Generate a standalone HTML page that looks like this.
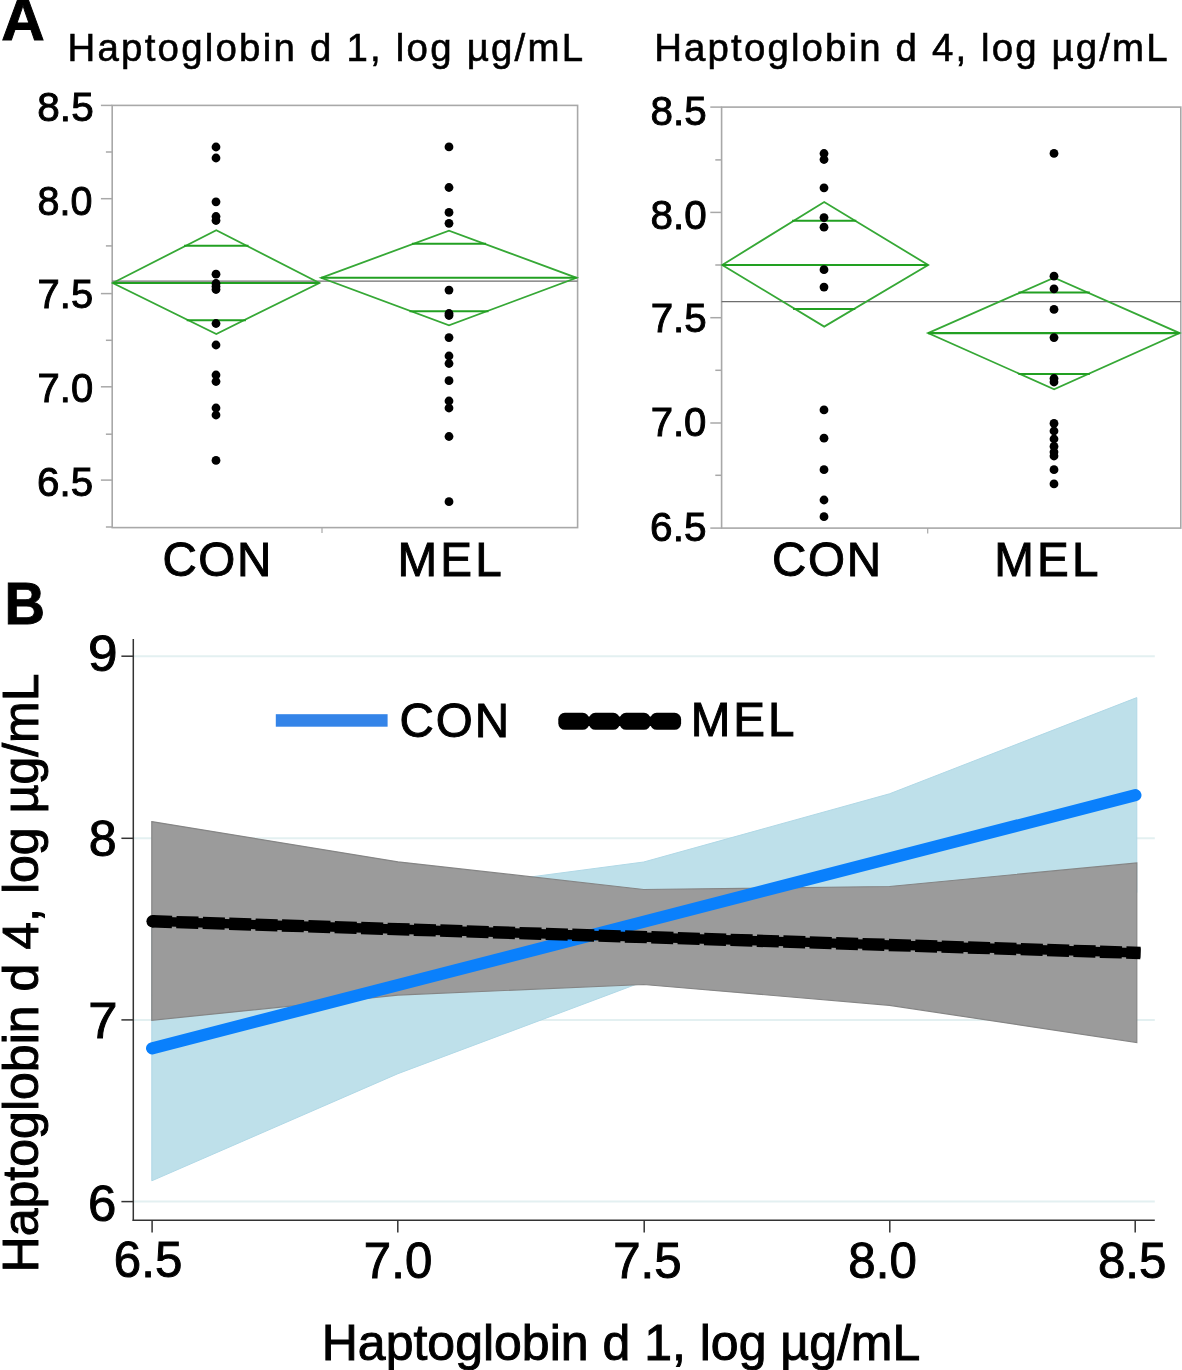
<!DOCTYPE html><html><head><meta charset="utf-8"><style>html,body{margin:0;padding:0;background:#fff;overflow:hidden}svg{display:block;will-change:transform}</style></head><body>
<svg width="1182" height="1370" viewBox="0 0 1182 1370" font-family='"Liberation Sans", sans-serif'>
<rect width="1182" height="1370" fill="#fff"/>
<rect x="112.2" y="105.4" width="465.40000000000003" height="422.20000000000005" fill="none" stroke="#a8a8a8" stroke-width="1.6"/>
<line x1="100.9" y1="105.4" x2="112.2" y2="105.4" stroke="#a8a8a8" stroke-width="1.5"/>
<line x1="100.9" y1="198.7" x2="112.2" y2="198.7" stroke="#a8a8a8" stroke-width="1.5"/>
<line x1="100.9" y1="293.6" x2="112.2" y2="293.6" stroke="#a8a8a8" stroke-width="1.5"/>
<line x1="100.9" y1="386.8" x2="112.2" y2="386.8" stroke="#a8a8a8" stroke-width="1.5"/>
<line x1="100.9" y1="480.1" x2="112.2" y2="480.1" stroke="#a8a8a8" stroke-width="1.5"/>
<line x1="105.9" y1="152.0" x2="112.2" y2="152.0" stroke="#a8a8a8" stroke-width="1.5"/>
<line x1="105.9" y1="245.9" x2="112.2" y2="245.9" stroke="#a8a8a8" stroke-width="1.5"/>
<line x1="105.9" y1="340.3" x2="112.2" y2="340.3" stroke="#a8a8a8" stroke-width="1.5"/>
<line x1="105.9" y1="434.2" x2="112.2" y2="434.2" stroke="#a8a8a8" stroke-width="1.5"/>
<line x1="105.9" y1="527.0" x2="112.2" y2="527.0" stroke="#a8a8a8" stroke-width="1.5"/>
<line x1="322" y1="527.6" x2="322" y2="533.1" stroke="#a8a8a8" stroke-width="1.2"/>
<line x1="112.2" y1="281.2" x2="577.6" y2="281.2" stroke="#6e6e6e" stroke-width="1.3"/>
<polygon points="112.7,283.0 216.3,230.2 319.4,283.0 216.3,334.0" fill="none" stroke="#36a836" stroke-width="1.8" stroke-linejoin="miter"/>
<line x1="112.7" y1="283.0" x2="319.4" y2="283.0" stroke="#22a022" stroke-width="2.1"/>
<line x1="184.1" y1="245.7" x2="248.5" y2="245.7" stroke="#22a022" stroke-width="2"/>
<line x1="186.7" y1="320.3" x2="245.9" y2="320.3" stroke="#22a022" stroke-width="2"/>
<polygon points="321.1,277.8 449,230.7 576.6,277.8 449,325.3" fill="none" stroke="#36a836" stroke-width="1.8" stroke-linejoin="miter"/>
<line x1="321.1" y1="277.8" x2="576.6" y2="277.8" stroke="#22a022" stroke-width="2.1"/>
<line x1="411.9" y1="243.7" x2="486.1" y2="243.7" stroke="#22a022" stroke-width="2"/>
<line x1="409.5" y1="311.3" x2="488.5" y2="311.3" stroke="#22a022" stroke-width="2"/>
<circle cx="216" cy="147.0" r="4.4" fill="#000"/>
<circle cx="216" cy="158.0" r="4.4" fill="#000"/>
<circle cx="216" cy="201.8" r="4.4" fill="#000"/>
<circle cx="216" cy="216.5" r="4.4" fill="#000"/>
<circle cx="216" cy="220.5" r="4.4" fill="#000"/>
<circle cx="216" cy="274.2" r="4.4" fill="#000"/>
<circle cx="216" cy="283.5" r="4.4" fill="#000"/>
<circle cx="216" cy="286.5" r="4.4" fill="#000"/>
<circle cx="216" cy="289.5" r="4.4" fill="#000"/>
<circle cx="216" cy="323.5" r="4.4" fill="#000"/>
<circle cx="216" cy="345" r="4.4" fill="#000"/>
<circle cx="216" cy="375" r="4.4" fill="#000"/>
<circle cx="216" cy="381.5" r="4.4" fill="#000"/>
<circle cx="216" cy="408" r="4.4" fill="#000"/>
<circle cx="216" cy="415" r="4.4" fill="#000"/>
<circle cx="216" cy="460.4" r="4.4" fill="#000"/>
<circle cx="449" cy="146.9" r="4.4" fill="#000"/>
<circle cx="449" cy="187.5" r="4.4" fill="#000"/>
<circle cx="449" cy="212.4" r="4.4" fill="#000"/>
<circle cx="449" cy="223.3" r="4.4" fill="#000"/>
<circle cx="449" cy="290.1" r="4.4" fill="#000"/>
<circle cx="449" cy="313.5" r="4.4" fill="#000"/>
<circle cx="449" cy="315.5" r="4.4" fill="#000"/>
<circle cx="449" cy="337.6" r="4.4" fill="#000"/>
<circle cx="449" cy="356" r="4.4" fill="#000"/>
<circle cx="449" cy="363.5" r="4.4" fill="#000"/>
<circle cx="449" cy="380.7" r="4.4" fill="#000"/>
<circle cx="449" cy="401" r="4.4" fill="#000"/>
<circle cx="449" cy="408" r="4.4" fill="#000"/>
<circle cx="449" cy="436.5" r="4.4" fill="#000"/>
<circle cx="449" cy="501.7" r="4.4" fill="#000"/>
<rect x="721.6" y="107.1" width="459.19999999999993" height="421.0" fill="none" stroke="#a8a8a8" stroke-width="1.6"/>
<line x1="710.3000000000001" y1="107.1" x2="721.6" y2="107.1" stroke="#a8a8a8" stroke-width="1.5"/>
<line x1="710.3000000000001" y1="212.4" x2="721.6" y2="212.4" stroke="#a8a8a8" stroke-width="1.5"/>
<line x1="710.3000000000001" y1="317.7" x2="721.6" y2="317.7" stroke="#a8a8a8" stroke-width="1.5"/>
<line x1="710.3000000000001" y1="423.0" x2="721.6" y2="423.0" stroke="#a8a8a8" stroke-width="1.5"/>
<line x1="710.3000000000001" y1="528.1" x2="721.6" y2="528.1" stroke="#a8a8a8" stroke-width="1.5"/>
<line x1="715.3000000000001" y1="159.9" x2="721.6" y2="159.9" stroke="#a8a8a8" stroke-width="1.5"/>
<line x1="715.3000000000001" y1="265.0" x2="721.6" y2="265.0" stroke="#a8a8a8" stroke-width="1.5"/>
<line x1="715.3000000000001" y1="370.3" x2="721.6" y2="370.3" stroke="#a8a8a8" stroke-width="1.5"/>
<line x1="715.3000000000001" y1="475.3" x2="721.6" y2="475.3" stroke="#a8a8a8" stroke-width="1.5"/>
<line x1="927.7" y1="528.1" x2="927.7" y2="533.6" stroke="#a8a8a8" stroke-width="1.2"/>
<line x1="721.6" y1="301.6" x2="1180.8" y2="301.6" stroke="#6e6e6e" stroke-width="1.3"/>
<polygon points="722.2,265.0 824.2,202.0 928.2,265.0 824.2,326.6" fill="none" stroke="#36a836" stroke-width="1.8" stroke-linejoin="miter"/>
<line x1="722.2" y1="265.0" x2="928.2" y2="265.0" stroke="#22a022" stroke-width="2.1"/>
<line x1="792.1" y1="220.7" x2="856.3" y2="220.7" stroke="#22a022" stroke-width="2"/>
<line x1="793.1" y1="308.9" x2="855.3" y2="308.9" stroke="#22a022" stroke-width="2"/>
<polygon points="928.0,333.1 1054.1,277.7 1179.6,333.1 1054.1,389.2" fill="none" stroke="#36a836" stroke-width="1.8" stroke-linejoin="miter"/>
<line x1="928.0" y1="333.1" x2="1179.6" y2="333.1" stroke="#22a022" stroke-width="2.1"/>
<line x1="1018.4" y1="292.6" x2="1089.8" y2="292.6" stroke="#22a022" stroke-width="2"/>
<line x1="1018.4" y1="374.1" x2="1089.8" y2="374.1" stroke="#22a022" stroke-width="2"/>
<circle cx="824" cy="153.5" r="4.4" fill="#000"/>
<circle cx="824" cy="159.5" r="4.4" fill="#000"/>
<circle cx="824" cy="187.8" r="4.4" fill="#000"/>
<circle cx="824" cy="217.6" r="4.4" fill="#000"/>
<circle cx="824" cy="227.2" r="4.4" fill="#000"/>
<circle cx="824" cy="269.7" r="4.4" fill="#000"/>
<circle cx="824" cy="287.1" r="4.4" fill="#000"/>
<circle cx="824" cy="409.9" r="4.4" fill="#000"/>
<circle cx="824" cy="438.2" r="4.4" fill="#000"/>
<circle cx="824" cy="469.7" r="4.4" fill="#000"/>
<circle cx="824" cy="500" r="4.4" fill="#000"/>
<circle cx="824" cy="516.7" r="4.4" fill="#000"/>
<circle cx="1054" cy="153.4" r="4.4" fill="#000"/>
<circle cx="1054" cy="276.2" r="4.4" fill="#000"/>
<circle cx="1054" cy="288.8" r="4.4" fill="#000"/>
<circle cx="1054" cy="309.4" r="4.4" fill="#000"/>
<circle cx="1054" cy="337.6" r="4.4" fill="#000"/>
<circle cx="1054" cy="378.5" r="4.4" fill="#000"/>
<circle cx="1054" cy="382" r="4.4" fill="#000"/>
<circle cx="1054" cy="423.4" r="4.4" fill="#000"/>
<circle cx="1054" cy="431" r="4.4" fill="#000"/>
<circle cx="1054" cy="439" r="4.4" fill="#000"/>
<circle cx="1054" cy="446.4" r="4.4" fill="#000"/>
<circle cx="1054" cy="452" r="4.4" fill="#000"/>
<circle cx="1054" cy="456" r="4.4" fill="#000"/>
<circle cx="1054" cy="469.7" r="4.4" fill="#000"/>
<circle cx="1054" cy="483.9" r="4.4" fill="#000"/>
<line x1="134" y1="656.2" x2="1154.8" y2="656.2" stroke="#e3f0f1" stroke-width="2"/>
<line x1="134" y1="838.3" x2="1154.8" y2="838.3" stroke="#e3f0f1" stroke-width="2"/>
<line x1="134" y1="1019.9" x2="1154.8" y2="1019.9" stroke="#e3f0f1" stroke-width="2"/>
<line x1="134" y1="1201.6" x2="1154.8" y2="1201.6" stroke="#e3f0f1" stroke-width="2"/>
<polygon points="151.8,915.5 397.9,894.5 643.7,862.0 889.5,793.8 1136.8,697.6 1136.8,892.6 889.5,923.2 643.7,981.5 397.9,1073.7 151.8,1180.8" fill="#bee0ea" stroke="#b0d8e6" stroke-width="1"/>
<polygon points="151.8,821.6 397.9,861.8 643.7,889.5 889.5,886.5 1136.8,862.9 1136.8,1042.6 889.5,1005.3 643.7,984.5 397.9,995.1 151.8,1020.3" fill="#9b9b9b" stroke="#858585" stroke-width="1.2"/>
<line x1="152.1" y1="1048.3" x2="1135.4" y2="795.2" stroke="#0a80fc" stroke-width="12.2" stroke-linecap="round"/>
<line x1="152.1" y1="921.3" x2="1140.5" y2="953.0" stroke="#000" stroke-width="9.4" stroke-linecap="butt"/>
<line x1="152.1" y1="921.3" x2="1140.5" y2="953.0" stroke="#000" stroke-width="12.4" stroke-linecap="butt" stroke-dasharray="22 4.4" stroke-dashoffset="2.1"/>
<circle cx="152.6" cy="921.3" r="6.2" fill="#000"/>
<line x1="133.3" y1="638.9" x2="133.3" y2="1220.9" stroke="#333333" stroke-width="1.5"/>
<line x1="132.6" y1="1220.2" x2="1154.8" y2="1220.2" stroke="#333333" stroke-width="1.5"/>
<line x1="121.4" y1="656.2" x2="133.3" y2="656.2" stroke="#333333" stroke-width="1.5"/>
<line x1="121.4" y1="838.3" x2="133.3" y2="838.3" stroke="#333333" stroke-width="1.5"/>
<line x1="121.4" y1="1019.9" x2="133.3" y2="1019.9" stroke="#333333" stroke-width="1.5"/>
<line x1="121.4" y1="1201.6" x2="133.3" y2="1201.6" stroke="#333333" stroke-width="1.5"/>
<line x1="152.1" y1="1220.2" x2="152.1" y2="1232.5" stroke="#333333" stroke-width="1.5"/>
<line x1="397.8" y1="1220.2" x2="397.8" y2="1232.5" stroke="#333333" stroke-width="1.5"/>
<line x1="644.2" y1="1220.2" x2="644.2" y2="1232.5" stroke="#333333" stroke-width="1.5"/>
<line x1="889.8" y1="1220.2" x2="889.8" y2="1232.5" stroke="#333333" stroke-width="1.5"/>
<line x1="1135.2" y1="1220.2" x2="1135.2" y2="1232.5" stroke="#333333" stroke-width="1.5"/>
<rect x="275.8" y="714.2" width="111.8" height="12.5" fill="#3484e8"/>
<rect x="566" y="716.6" width="107" height="9.4" fill="#000"/>
<rect x="558.3" y="712.8" width="30.9" height="17" rx="6.5" ry="6.5" fill="#000"/>
<rect x="588.9" y="712.8" width="30.9" height="17" rx="6.5" ry="6.5" fill="#000"/>
<rect x="619.6" y="712.8" width="30.9" height="17" rx="6.5" ry="6.5" fill="#000"/>
<rect x="650.2" y="712.8" width="30.9" height="17" rx="6.5" ry="6.5" fill="#000"/>
<text x="1.36" y="40.06" font-size="59.5" font-weight="bold" textLength="43.45" lengthAdjust="spacingAndGlyphs" stroke="#000" stroke-width="0.95">A</text>
<text x="4.50" y="624.30" font-size="59.5" font-weight="bold" textLength="40.50" lengthAdjust="spacingAndGlyphs" stroke="#000" stroke-width="0.95">B</text>
<text x="67.48" y="61.00" font-size="38.4" font-weight="normal" textLength="515.62" lengthAdjust="spacing" stroke="#000" stroke-width="0.6">Haptoglobin d 1, log µg/mL</text>
<text x="654.22" y="61.00" font-size="38.4" font-weight="normal" textLength="513.36" lengthAdjust="spacing" stroke="#000" stroke-width="0.6">Haptoglobin d 4, log µg/mL</text>
<text x="37.34" y="121.06" font-size="40.6" font-weight="normal" textLength="56.35" lengthAdjust="spacingAndGlyphs" stroke="#000" stroke-width="0.95">8.5</text>
<text x="37.60" y="214.56" font-size="40.6" font-weight="normal" textLength="54.87" lengthAdjust="spacingAndGlyphs" stroke="#000" stroke-width="0.95">8.0</text>
<text x="37.60" y="308.34" font-size="40.6" font-weight="normal" textLength="55.61" lengthAdjust="spacingAndGlyphs" stroke="#000" stroke-width="0.95">7.5</text>
<text x="37.60" y="402.08" font-size="40.6" font-weight="normal" textLength="55.61" lengthAdjust="spacingAndGlyphs" stroke="#000" stroke-width="0.95">7.0</text>
<text x="37.12" y="496.06" font-size="40.6" font-weight="normal" textLength="56.09" lengthAdjust="spacingAndGlyphs" stroke="#000" stroke-width="0.95">6.5</text>
<text x="650.60" y="125.06" font-size="40.6" font-weight="normal" textLength="56.13" lengthAdjust="spacingAndGlyphs" stroke="#000" stroke-width="0.95">8.5</text>
<text x="650.60" y="229.06" font-size="40.6" font-weight="normal" textLength="56.13" lengthAdjust="spacingAndGlyphs" stroke="#000" stroke-width="0.95">8.0</text>
<text x="650.64" y="332.34" font-size="40.6" font-weight="normal" textLength="56.09" lengthAdjust="spacingAndGlyphs" stroke="#000" stroke-width="0.95">7.5</text>
<text x="650.64" y="435.58" font-size="40.6" font-weight="normal" textLength="55.83" lengthAdjust="spacingAndGlyphs" stroke="#000" stroke-width="0.95">7.0</text>
<text x="650.12" y="540.56" font-size="40.6" font-weight="normal" textLength="56.35" lengthAdjust="spacingAndGlyphs" stroke="#000" stroke-width="0.95">6.5</text>
<text x="162.38" y="575.80" font-size="47.6" font-weight="normal" textLength="108.97" lengthAdjust="spacing" stroke="#000" stroke-width="0.95">CON</text>
<text x="397.50" y="575.80" font-size="47.6" font-weight="normal" textLength="104.23" lengthAdjust="spacing" stroke="#000" stroke-width="0.95">MEL</text>
<text x="772.02" y="575.86" font-size="47.6" font-weight="normal" textLength="109.03" lengthAdjust="spacing" stroke="#000" stroke-width="0.95">CON</text>
<text x="994.26" y="575.58" font-size="47.6" font-weight="normal" textLength="104.23" lengthAdjust="spacing" stroke="#000" stroke-width="0.95">MEL</text>
<text x="399.38" y="737.30" font-size="47.6" font-weight="normal" textLength="109.69" lengthAdjust="spacing" stroke="#000" stroke-width="0.95">CON</text>
<text x="690.74" y="736.32" font-size="47.6" font-weight="normal" textLength="103.75" lengthAdjust="spacing" stroke="#000" stroke-width="0.95">MEL</text>
<text x="88.14" y="671.34" font-size="49.4" font-weight="normal" textLength="29.56" lengthAdjust="spacingAndGlyphs" stroke="#000" stroke-width="0.95">9</text>
<text x="88.86" y="855.56" font-size="49.4" font-weight="normal" textLength="27.88" lengthAdjust="spacingAndGlyphs" stroke="#000" stroke-width="0.95">8</text>
<text x="88.16" y="1038.34" font-size="49.4" font-weight="normal" textLength="29.28" lengthAdjust="spacingAndGlyphs" stroke="#000" stroke-width="0.95">7</text>
<text x="87.90" y="1221.32" font-size="49.4" font-weight="normal" textLength="28.32" lengthAdjust="spacingAndGlyphs" stroke="#000" stroke-width="0.95">6</text>
<text x="113.86" y="1277.08" font-size="49.2" font-weight="normal" stroke="#000" stroke-width="0.95">6.5</text>
<text x="363.86" y="1277.56" font-size="49.2" font-weight="normal" stroke="#000" stroke-width="0.95">7.0</text>
<text x="613.14" y="1277.56" font-size="49.2" font-weight="normal" stroke="#000" stroke-width="0.95">7.5</text>
<text x="848.36" y="1277.56" font-size="49.2" font-weight="normal" stroke="#000" stroke-width="0.95">8.0</text>
<text x="1097.88" y="1277.80" font-size="49.2" font-weight="normal" stroke="#000" stroke-width="0.95">8.5</text>
<text x="321.76" y="1360.22" font-size="50" font-weight="normal" textLength="598.52" lengthAdjust="spacing" stroke="#000" stroke-width="0.95">Haptoglobin d 1, log µg/mL</text>
<text x="0" y="0" font-size="50" transform="translate(38.100000000000094,1272.4) rotate(-90)" textLength="599.0" lengthAdjust="spacing" stroke="#000" stroke-width="0.95">Haptoglobin d 4, log µg/mL</text>
</svg></body></html>
